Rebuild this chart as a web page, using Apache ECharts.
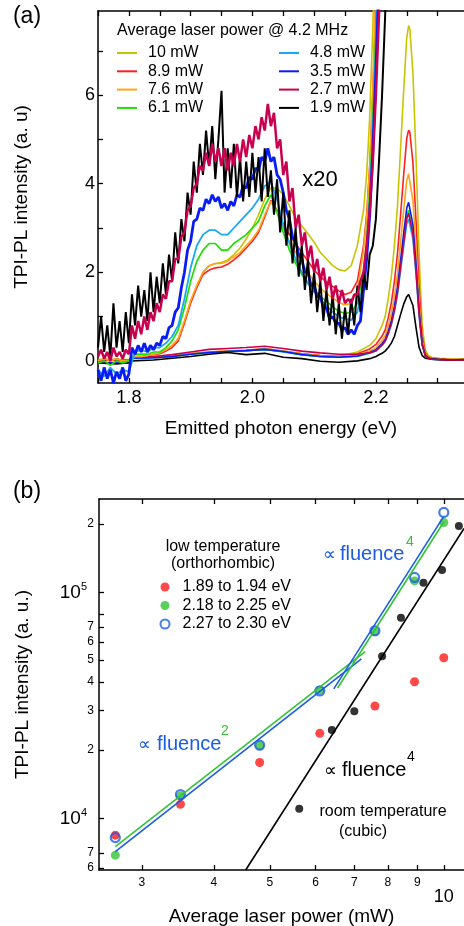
<!DOCTYPE html>
<html>
<head>
<meta charset="utf-8">
<script src="https://cdn.jsdelivr.net/npm/echarts@6/dist/echarts.min.js"></script>
<style>
html, body { margin: 0; padding: 0; background: #fff; }
#chart { width: 464px; height: 926px; }
</style>
</head>
<body>
<div id="chart"></div>
<script>
var FONT = "'Liberation Sans', Arial, Helvetica, sans-serif";

// ---- (a) spectra ----
// energy grid of the noisy x20 traces (eV)
var energyFine = [
  1.75,1.755,1.76,1.765,1.77,1.775,1.78,1.785,1.79,1.795,
  1.8,1.805,1.81,1.815,1.82,1.825,1.83,1.835,1.84,1.845,
  1.85,1.855,1.86,1.865,1.87,1.875,1.88,1.885,1.89,1.895,
  1.9,1.905,1.91,1.915,1.92,1.925,1.93,1.935,1.94,1.945,
  1.95,1.955,1.96,1.965,1.97,1.975,1.98,1.985,1.99,1.995,
  2.0,2.005,2.01,2.015,2.02,2.025,2.03,2.035,2.04,2.045,
  2.05,2.055,2.06,2.065,2.07,2.075,2.08,2.085,2.09,2.095,
  2.1,2.105,2.11,2.115,2.12,2.125,2.13,2.135,2.14,2.145,
  2.15,2.155,2.16,2.165,2.17,2.175,2.18,2.185,2.19,2.195,
  2.2,2.205,2.21,2.215,2.22
];
// energy grid of the smoother x20 traces
var energyCoarse = [
  1.75,1.76,1.77,1.78,1.79,1.8,1.81,1.82,1.83,1.84,
  1.85,1.86,1.87,1.88,1.89,1.9,1.91,1.92,1.93,1.94,
  1.95,1.96,1.97,1.98,1.99,2.0,2.01,2.02,2.03,2.04,
  2.05,2.06,2.07,2.08,2.09,2.1,2.11,2.12,2.13,2.14,
  2.15,2.16,2.17,2.18,2.185,2.19,2.195,2.2,2.205,2.21
];
// energy grid of the unscaled spectra (with the 2.25 eV peak)
var energyPeak = [
  1.75,1.78,1.8,1.805,1.84,1.87,1.9,1.93,1.96,1.99,
  2.02,2.05,2.08,2.11,2.14,2.17,2.19,2.2,2.21,2.215,
  2.22,2.225,2.23,2.235,2.24,2.245,2.25,2.253,2.255,2.26,
  2.265,2.27,2.275,2.28,2.285,2.29,2.3,2.31,2.32,2.343
];

// x20 traces
var x20Black = [
  0.3,1.0,0.2,0.8,0.1,1.3,0.3,0.9,0.2,1.1,
  0.4,1.5,0.8,1.7,1.0,1.6,0.9,2.0,1.1,1.9,
  1.3,2.2,1.5,2.4,1.8,2.9,2.2,3.2,2.7,3.8,
  3.3,4.5,3.8,4.9,4.2,5.2,4.4,5.3,4.1,5.0,
  6.1,3.8,4.8,3.9,4.9,3.7,4.6,3.6,4.5,3.7,
  4.7,3.8,4.6,3.6,4.8,3.7,4.3,3.3,4.1,2.9,
  3.8,2.6,3.4,2.2,3.0,1.9,2.6,1.6,2.3,1.3,
  2.0,1.1,1.8,0.9,1.6,0.8,1.5,0.6,1.3,0.5,
  1.2,0.6,1.4,0.8,1.7,1.1,2.0,1.6,2.4,2.6,
  3.2,4.5,6.0,7.8,9.8
];
var x20Crimson = [
  0.1,0.25,0.05,0.2,0.0,0.3,0.1,0.2,0.05,0.25,
  0.15,0.8,0.5,0.9,0.6,1.0,0.7,1.1,0.9,1.3,
  1.1,1.5,1.4,1.8,1.8,2.3,2.3,2.8,2.9,3.4,
  3.5,3.9,4.0,4.4,4.3,4.7,4.4,4.9,4.5,4.8,
  4.4,4.8,4.3,4.7,4.4,4.9,4.5,5.0,4.6,5.1,
  4.8,5.3,5.0,5.5,5.2,5.8,5.3,5.6,4.8,5.0,
  4.2,4.5,3.6,3.9,3.0,3.3,2.6,2.9,2.3,2.6,
  2.0,2.3,1.8,2.1,1.6,1.9,1.4,1.7,1.3,1.6,
  1.3,1.4,1.3,1.5,1.5,1.8,2.0,2.6,3.4,4.5,
  6.0,7.8,10
];
var x20Blue = [
  -0.2,-0.45,-0.15,-0.4,-0.2,-0.5,-0.25,-0.4,-0.15,-0.45,
  -0.3,0.3,0.15,0.35,0.2,0.4,0.2,0.35,0.25,0.4,
  0.35,0.55,0.5,0.75,0.8,1.1,1.2,1.65,2.0,2.5,
  2.7,3.15,3.2,3.45,3.4,3.65,3.55,3.75,3.6,3.7,
  3.45,3.55,3.4,3.6,3.5,3.75,3.7,3.95,3.9,4.15,
  4.1,4.35,4.3,4.6,4.5,4.8,4.5,4.6,4.2,4.1,
  3.8,3.4,3.2,2.8,2.7,2.4,2.3,2.0,2.0,1.7,
  1.7,1.45,1.45,1.2,1.2,0.95,1.0,0.85,0.85,0.7,
  0.75,0.6,0.7,0.6,0.8,0.9,1.6,2.3,3.3,4.7,
  6.5,8.6,11
];
var x20LightBlue = [
  -0.2,-0.35,-0.15,-0.3,-0.2,-0.25,0.2,0.25,0.2,0.3,
  0.3,0.4,0.55,0.8,1.4,2.1,2.6,2.85,2.95,2.95,
  2.85,2.85,3.0,3.15,3.3,3.45,3.65,3.95,4.05,3.65,
  3.05,2.65,2.3,2.0,1.75,1.55,1.4,1.25,1.1,1.0,
  0.95,0.92,1.1,1.8,2.5,3.6,5.1,7.1,9.6
];
var x20Green = [
  -0.05,0.0,-0.1,0.0,-0.05,0.0,0.15,0.15,0.15,0.2,
  0.2,0.3,0.45,0.7,1.2,1.8,2.25,2.5,2.65,2.65,
  2.5,2.5,2.65,2.75,2.85,3.0,3.15,3.5,3.75,3.35,
  2.9,2.5,2.2,1.95,1.75,1.6,1.45,1.35,1.22,1.12,
  1.07,1.1,1.3,2.0,2.7,3.8,5.4,7.4,10
];
var x20Orange = [
  0.0,0.05,0.0,0.05,0.0,0.0,0.1,0.1,0.12,0.15,
  0.18,0.25,0.35,0.5,0.9,1.35,1.7,2.0,2.15,2.2,
  2.2,2.25,2.35,2.45,2.6,2.75,2.95,3.3,3.6,3.35,
  3.0,2.7,2.45,2.2,2.0,1.8,1.65,1.52,1.42,1.32,
  1.26,1.3,1.6,2.5,3.2,4.4,6.2,8.6
];
var x20Red = [
  0.0,0.05,0.0,0.05,0.0,0.0,0.1,0.1,0.12,0.14,
  0.16,0.22,0.3,0.45,0.85,1.3,1.65,1.95,2.05,2.1,
  2.12,2.18,2.28,2.4,2.55,2.7,2.9,3.25,3.62,3.4,
  3.1,2.85,2.65,2.45,2.25,2.05,1.9,1.78,1.68,1.58,
  1.5,1.55,1.8,2.6,3.3,4.4,6.0,8.0,10.5
];
var x20Yellow = [
  0.0,0.05,0.0,0.05,0.0,0.0,0.1,0.1,0.12,0.15,
  0.18,0.25,0.35,0.5,0.9,1.35,1.7,2.0,2.15,2.2,
  2.22,2.28,2.4,2.55,2.75,3.0,3.3,3.65,3.9,3.9,
  3.75,3.5,3.22,3.05,2.87,2.68,2.45,2.3,2.15,2.06,
  2.03,2.15,2.6,3.4,4.2,5.5,7.5,10.5
];

// unscaled traces
var rawYellow = [0.03,0.03,0.03,0.07,0.08,0.11,0.16,0.19,0.21,0.23,0.26,0.21,0.16,0.12,0.11,0.2,
  0.35,0.5,0.8,1.0,1.4,1.9,2.6,3.5,4.8,6.1,7.3,7.57,7.5,6.5,4.6,2.4,0.8,0.25,0.12,0.08,0.06,0.05,0.04,0.04];
var rawRed = [0.02,0.02,0.02,0.07,0.08,0.11,0.16,0.2,0.22,0.24,0.28,0.22,0.16,0.12,0.1,0.16,
  0.27,0.37,0.56,0.7,0.97,1.31,1.8,2.42,3.3,4.2,5.02,5.21,5.16,4.47,3.17,1.66,0.56,0.18,0.09,0.06,0.05,0.04,0.03,0.03];
var rawOrange = [0.02,0.02,0.02,0.07,0.08,0.11,0.16,0.2,0.22,0.24,0.27,0.22,0.15,0.11,0.09,0.13,
  0.22,0.3,0.46,0.57,0.79,1.07,1.45,1.96,2.68,3.4,4.07,4.22,4.18,3.62,2.56,1.34,0.45,0.15,0.08,0.05,0.04,0.03,0.03,0.03];
var rawGreen = [0.02,0.02,0.02,0.06,0.07,0.1,0.15,0.19,0.21,0.23,0.26,0.21,0.14,0.1,0.08,0.11,
  0.18,0.24,0.37,0.46,0.63,0.86,1.17,1.58,2.16,2.74,3.28,3.4,3.37,2.92,2.07,1.08,0.37,0.12,0.06,0.04,0.03,0.02,0.02,0.02];
var rawLightBlue = [0.02,0.01,0.02,0.06,0.07,0.1,0.15,0.19,0.21,0.23,0.26,0.2,0.14,0.1,0.08,0.1,
  0.17,0.22,0.35,0.43,0.6,0.81,1.1,1.49,2.03,2.58,3.09,3.2,3.17,2.75,1.95,1.02,0.35,0.11,0.06,0.04,0.03,0.02,0.02,0.02];
var rawBlue = [-0.05,-0.04,-0.05,0.06,0.07,0.1,0.15,0.19,0.21,0.23,0.26,0.21,0.14,0.1,0.08,0.11,
  0.19,0.25,0.39,0.48,0.67,0.9,1.23,1.66,2.27,2.88,3.45,3.58,3.55,3.07,2.18,1.14,0.39,0.13,0.07,0.04,0.03,0.02,0.02,0.02];
var rawCrimson = [0.0,0.02,0.0,0.08,0.1,0.14,0.2,0.26,0.28,0.3,0.33,0.28,0.22,0.18,0.15,0.15,
  0.18,0.23,0.36,0.45,0.62,0.84,1.15,1.55,2.12,2.68,3.21,3.33,3.3,2.86,2.03,1.06,0.36,0.12,0.06,0.04,0.03,0.02,0.02,0.02];
var rawBlack = [-0.05,-0.07,-0.04,0.0,0.02,0.06,0.1,0.15,0.19,0.14,0.17,0.08,0.05,-0.01,-0.03,0.0,
  0.05,0.1,0.17,0.22,0.3,0.4,0.55,0.8,1.05,1.28,1.45,1.5,1.47,1.25,0.75,0.3,0.12,0.06,0.05,0.04,0.03,0.03,0.02,0.03];

var energyTicks = [1.75,1.8,1.85,1.9,1.95,2.0,2.05,2.1,2.15,2.2,2.25,2.3];
var energyLabels = [1.8, 2.0, 2.2];
var intensityTicks = [0,1,2,3,4,5,6,7];
var intensityLabels = [0,2,4,6];

// ---- (b) power dependence ----
var powerLow = [2.7, 3.5, 4.8, 6.1, 7.6, 8.9, 10];
var lowRed = [8400, 11500, 17600, 23700, 31300, 40100, 51200];
var lowGreen = [6850, 12500, 20900, 36800, 66700, 112000, 203000];
var lowBlue = [8190, 12700, 21000, 36500, 67400, 116000, 225000];
var powerRoom = [5.62, 6.4, 7.0, 7.82, 8.43, 9.22, 9.93, 10.62];
var roomBlack = [11000, 24500, 29700, 52000, 76900, 110000, 125000, 196000];
// fitted power laws (end points)
var fitPower2Green = [[2.7, 7470], [7.31, 54500]];
var fitPower2Blue = [[2.7, 7100], [7.2, 50600]];
var fitPower4Green = [[6.55, 37600], [10, 204000]];
var fitPower4Blue = [[6.45, 37300], [10, 216000]];
var fitPower4Room = [[4.54, 5890], [10.84, 191000]];

var powerTicks = [3,4,5,6,7,8,9,10];
var countTicks = [6000,7000,10000,20000,30000,40000,50000,60000,70000,80000,100000,200000];
var countLabels = [6000,7000,10000,20000,30000,40000,50000,60000,70000,100000,200000];

var colors = {
  yellow: '#c9c400', red: '#ff1f1f', orange: '#ffa31a', green: '#1ee000',
  lightblue: '#1aa9f0', blue: '#0a1cf5', crimson: '#c8004f', black: '#000000'
};
var redB = '#ff1a1a', greenB = '#33c433', blueB = '#1a5ce6';

function pairs(xs, ys) {
  var out = [];
  for (var i = 0; i < ys.length && i < xs.length; i++) {
    if (ys[i] != null) out.push([xs[i], ys[i]]);
  }
  return out;
}
function logPairs(xs, ys) {
  var out = [];
  for (var i = 0; i < ys.length; i++) out.push([Math.log10(xs[i]), Math.log10(ys[i])]);
  return out;
}
function logLine(pts) {
  return pts.map(function (p) { return [Math.log10(p[0]), Math.log10(p[1])]; });
}
function logs(arr) {
  return arr.map(function (v) { return Math.log10(v); });
}

var traces = [
  { name: '10 mW', color: colors.yellow, x: energyCoarse, x20: x20Yellow, raw: rawYellow, w: 1.6 },
  { name: '8.9 mW', color: colors.red, x: energyCoarse, x20: x20Red, raw: rawRed, w: 1.6 },
  { name: '7.6 mW', color: colors.orange, x: energyCoarse, x20: x20Orange, raw: rawOrange, w: 1.6 },
  { name: '6.1 mW', color: colors.green, x: energyCoarse, x20: x20Green, raw: rawGreen, w: 1.7 },
  { name: '4.8 mW', color: colors.lightblue, x: energyCoarse, x20: x20LightBlue, raw: rawLightBlue, w: 1.8 },
  { name: '3.5 mW', color: colors.blue, x: energyFine, x20: x20Blue, raw: rawBlue, w: 2.8 },
  { name: '1.9 mW', color: colors.black, x: energyFine, x20: x20Black, raw: rawBlack, w: 2 },
  { name: '2.7 mW', color: colors.crimson, x: energyFine, x20: x20Crimson, raw: rawCrimson, w: 2.5 }
];

var series = [];
traces.forEach(function (t) {
  series.push({
    name: t.name, type: 'line', xAxisIndex: 0, yAxisIndex: 0,
    data: pairs(energyPeak, t.raw), symbol: 'none', showSymbol: false,
    lineStyle: { color: t.color, width: 1.6 }, itemStyle: { color: t.color }
  });
});
traces.forEach(function (t) {
  series.push({
    name: t.name, type: 'line', xAxisIndex: 0, yAxisIndex: 0,
    data: pairs(t.x, t.x20), symbol: 'none', showSymbol: false,
    lineStyle: { color: t.color, width: t.w }, itemStyle: { color: t.color }
  });
});

function fitLine(pts, color) {
  return {
    type: 'line', xAxisIndex: 2, yAxisIndex: 1, data: logLine(pts),
    symbol: 'none', showSymbol: false, silent: true,
    lineStyle: { color: color, width: 1.6 }
  };
}
series.push(fitLine(fitPower4Room, '#000'));
series.push(fitLine(fitPower2Green, greenB));
series.push(fitLine(fitPower2Blue, blueB));
series.push(fitLine(fitPower4Green, greenB));
series.push(fitLine(fitPower4Blue, blueB));
series.push({
  name: '1.89 to 1.94 eV', type: 'scatter', xAxisIndex: 2, yAxisIndex: 1,
  data: logPairs(powerLow, lowRed), symbol: 'circle', symbolSize: 9,
  itemStyle: { color: redB }
});
series.push({
  name: 'room temperature', type: 'scatter', xAxisIndex: 2, yAxisIndex: 1,
  data: logPairs(powerRoom, roomBlack), symbol: 'circle', symbolSize: 8,
  itemStyle: { color: '#000' }
});
series.push({
  name: '2.18 to 2.25 eV', type: 'scatter', xAxisIndex: 2, yAxisIndex: 1,
  data: logPairs(powerLow, lowGreen), symbol: 'circle', symbolSize: 9,
  itemStyle: { color: greenB }
});
series.push({
  name: '2.27 to 2.30 eV', type: 'scatter', xAxisIndex: 2, yAxisIndex: 1,
  data: logPairs(powerLow, lowBlue), symbol: 'circle', symbolSize: 9,
  itemStyle: { color: 'rgba(255,255,255,0)', borderColor: blueB, borderWidth: 2.2 }
});

var axisLine = { show: true, onZero: false, lineStyle: { color: '#000', width: 1.5 } };
function ticks(vals) {
  return { show: true, inside: true, length: 5, customValues: vals, lineStyle: { color: '#000', width: 1.3 } };
}

function countLabel(v) {
  var e = Math.floor(v + 1e-9);
  var m = Math.round(Math.pow(10, v - e));
  if (m === 1 || m === 10) return '{d|10}{e|' + Math.round(v) + '}';
  return '{m|' + m + '}';
}

function powerLegend(names, left) {
  return {
    data: names, orient: 'vertical', left: left, top: 45, padding: 0,
    icon: 'rect', itemWidth: 20, itemHeight: 2, itemGap: 2.3, selectedMode: false,
    textStyle: { fontSize: 16, lineHeight: 16, color: '#000', fontFamily: FONT, padding: [0, 0, 0, 6] }
  };
}

var option = {
  animation: false,
  backgroundColor: '#fff',
  textStyle: { fontFamily: FONT },
  grid: [
    { left: 98, top: 11, width: 366, height: 372, outerBoundsMode: 'none' },
    { left: 99, top: 499, width: 365, height: 371, outerBoundsMode: 'none' }
  ],
  xAxis: [
    {
      type: 'value', gridIndex: 0, position: 'bottom', min: 1.75, max: 2.3427,
      axisLine: axisLine, axisTick: ticks(energyTicks), splitLine: { show: false },
      axisLabel: {
        customValues: energyLabels, margin: 6, fontSize: 18, color: '#000', fontFamily: FONT,
        formatter: function (v) { return v.toFixed(1); }
      },
      name: 'Emitted photon energy (eV)', nameLocation: 'middle', nameGap: 36,
      nameTextStyle: { fontSize: 19, color: '#000', fontFamily: FONT }
    },
    {
      type: 'value', gridIndex: 0, position: 'top', min: 1.75, max: 2.3427,
      axisLine: axisLine, axisTick: ticks(energyTicks), splitLine: { show: false },
      axisLabel: { show: false }
    },
    {
      type: 'value', gridIndex: 1, position: 'bottom', min: 0.4031, max: 1.035,
      axisLine: axisLine, axisTick: ticks(logs(powerTicks)), splitLine: { show: false },
      axisLabel: {
        customValues: logs(powerTicks), margin: 7, color: '#000', fontFamily: FONT,
        formatter: function (v) {
          var p = Math.round(Math.pow(10, v));
          return p === 10 ? '{big|10}' : '{s|' + p + '}';
        },
        rich: {
          s: { fontSize: 12, fontFamily: FONT, color: '#000' },
          big: { fontSize: 18, fontFamily: FONT, color: '#000', padding: [11, 0, 0, 0] }
        }
      },
      name: 'Average laser power (mW)', nameLocation: 'middle', nameGap: 35,
      nameTextStyle: { fontSize: 19, color: '#000', fontFamily: FONT }
    },
    {
      type: 'value', gridIndex: 1, position: 'top', min: 0.4031, max: 1.035,
      axisLine: axisLine, axisTick: ticks(logs(powerTicks)), splitLine: { show: false },
      axisLabel: { show: false }
    }
  ],
  yAxis: [
    {
      type: 'value', gridIndex: 0, min: -0.5, max: 7.9,
      axisLine: axisLine, axisTick: ticks(intensityTicks), splitLine: { show: false },
      axisLabel: { customValues: intensityLabels, margin: 3, fontSize: 18, color: '#000', fontFamily: FONT },
      name: 'TPI-PL intensity (a. u)', nameLocation: 'middle', nameGap: 67,
      nameTextStyle: { fontSize: 19, color: '#000', fontFamily: FONT }
    },
    {
      type: 'value', gridIndex: 1, min: 3.77, max: 5.4116,
      axisLine: axisLine, axisTick: ticks(logs(countTicks)), splitLine: { show: false },
      axisLabel: {
        customValues: logs(countLabels), margin: 5, color: '#000', fontFamily: FONT,
        formatter: countLabel,
        rich: {
          m: { fontSize: 12, fontFamily: FONT, color: '#000' },
          d: { fontSize: 19, fontFamily: FONT, color: '#000', verticalAlign: 'bottom' },
          e: { fontSize: 11, fontFamily: FONT, color: '#000', verticalAlign: 'top', padding: [0, 7, 10, 0] }
        }
      },
      name: 'TPI-PL intensity (a. u.)', nameLocation: 'middle', nameGap: 67,
      nameTextStyle: { fontSize: 19, color: '#000', fontFamily: FONT }
    }
  ],
  legend: [
    powerLegend(['10 mW', '8.9 mW', '7.6 mW', '6.1 mW'], 117),
    powerLegend(['4.8 mW', '3.5 mW', '2.7 mW', '1.9 mW'], 279),
    {
      data: [
        '1.89 to 1.94 eV', '2.18 to 2.25 eV',
        { name: '2.27 to 2.30 eV', itemStyle: { color: 'rgba(255,255,255,0)', borderColor: blueB, borderWidth: 2 } }
      ],
      orient: 'vertical', left: 159.5, top: 579, padding: 0,
      itemWidth: 9, itemHeight: 9, itemGap: 2.5, selectedMode: false,
      textStyle: { fontSize: 16, lineHeight: 16, color: '#000', fontFamily: FONT, padding: [0, 0, 0, 8] }
    }
  ],
  graphic: [
    txt('(a)', 27, 17, 23, '#000', 'center'),
    txt('(b)', 27, 492, 23, '#000', 'center'),
    txt('Average laser power @ 4.2 MHz', 117, 31, 16, '#000', 'left'),
    txt('x20', 320, 180, 22, '#000', 'center'),
    txt('low temperature', 223, 547, 16, '#000', 'center'),
    txt('(orthorhombic)', 223, 564, 16, '#000', 'center'),
    txt('\u221d', 323, 555, 18, blueB, 'left'),
    txt('fluence', 340, 554, 20, blueB, 'left'),
    txt('4', 406, 542, 14, greenB, 'left'),
    txt('\u221d', 138, 745, 18, blueB, 'left'),
    txt('fluence', 157, 744, 20, blueB, 'left'),
    txt('2', 221, 731, 14, greenB, 'left'),
    txt('\u221d', 324, 771, 18, '#000', 'left'),
    txt('fluence', 342, 770, 20, '#000', 'left'),
    txt('4', 407, 757, 14, '#000', 'left'),
    txt('room temperature', 383, 812, 16, '#000', 'center'),
    txt('(cubic)', 363, 832, 16, '#000', 'center')
  ],
  series: series
};

function txt(s, x, y, size, color, align) {
  return {
    type: 'text', x: x, y: y, silent: true,
    style: {
      text: s, fontSize: size, fontFamily: FONT, fill: color,
      align: align, verticalAlign: 'middle', textAlign: align, textVerticalAlign: 'middle'
    }
  };
}

var chart = echarts.init(document.getElementById('chart'), null, { renderer: 'canvas' });
chart.setOption(option);
</script>
</body>
</html>
